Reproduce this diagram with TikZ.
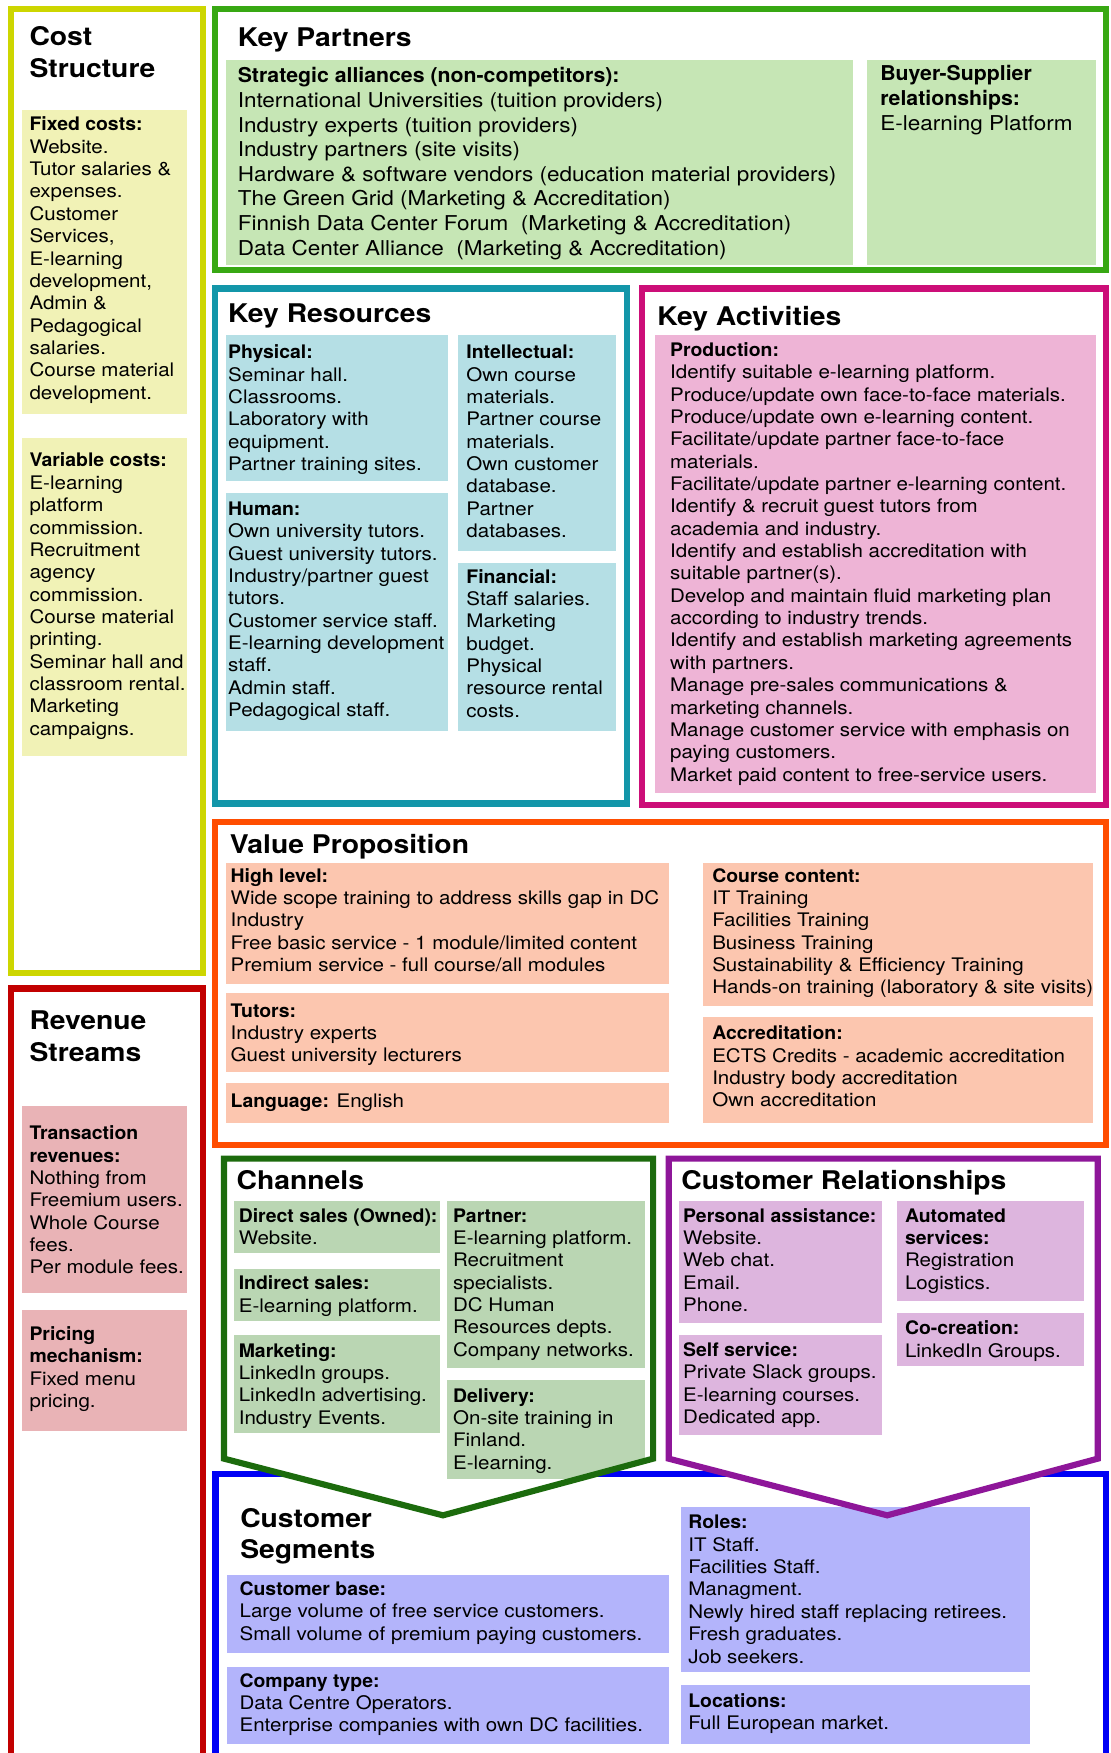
\documentclass[tikz,border=0pt]{standalone}
\usepackage{fontspec}
\setmainfont{TeX Gyre Heros}[FakeStretch=1.1]
\newfontfamily\labelfamily{TeX Gyre Heros}[FakeStretch=1.04]
\usetikzlibrary{positioning}

\definecolor{costline}{HTML}{CDD600}
\definecolor{costfill}{HTML}{F1F2B6}
\definecolor{revline}{HTML}{C20000}
\definecolor{revfill}{HTML}{E9B3B6}
\definecolor{kpline}{HTML}{38A813}
\definecolor{kpfill}{HTML}{C6E6B5}
\definecolor{krline}{HTML}{1396A9}
\definecolor{krfill}{HTML}{B5DFE5}
\definecolor{kaline}{HTML}{CC0E78}
\definecolor{kafill}{HTML}{EEB4D6}
\definecolor{vpline}{HTML}{FF4D00}
\definecolor{vpfill}{HTML}{FCC6AF}
\definecolor{chline}{HTML}{1C6B0D}
\definecolor{chfill}{HTML}{BAD6B3}
\definecolor{crline}{HTML}{8E1699}
\definecolor{crfill}{HTML}{DDB5DE}
\definecolor{csline}{HTML}{0000F5}
\definecolor{csfill}{HTML}{B3B4FB}

\newcommand{\bodyfont}{\fontsize{16.7}{20}\selectfont}
\newcommand{\partnerfont}{\fontsize{18.3}{22}\selectfont}
\newcommand{\headfont}{\fontsize{23}{28.3}\selectfont\bfseries}
\newcommand{\lab}[1]{{\labelfamily\bfseries #1}}

\begin{document}
\begin{tikzpicture}[x=1pt, y=-1pt]

    % Define block styles
    \tikzstyle{frame} = [draw, line width=5.5pt, anchor=north west, inner sep=0pt, outer sep=0pt]
    \tikzstyle{cell} = [anchor=north west, inner sep=0pt, outer sep=0pt]
    \tikzstyle{txt} = [inner sep=0pt, align=left, font=\bodyfont]
    \tikzstyle{head} = [inner sep=0pt, align=left, font=\headfont]

    \useasboundingbox (0,0) rectangle (993,1568);

    % Cost Structure
    \node[frame, draw=costline, minimum width=171.3pt, minimum height=862.2pt] (cost) at (9.9,8.3) {};
    \node[head, below right=12.8pt and 16.3pt of cost.north west] (costtitle) {\strut Cost\\Structure};
    \node[cell, fill=costfill, minimum width=147.9pt, minimum height=272.3pt] (fixed) at (19.8,98.4) {};
    \node[txt, below right=4.5pt and 6.4pt of fixed.north west] (fixedtxt) {\strut\lab{Fixed costs:}\\Website.\\Tutor salaries \&\\expenses.\\Customer\\Services,\\E-learning\\development,\\Admin \&\\Pedagogical\\salaries.\\Course material\\development.};
    \node[cell, fill=costfill, minimum width=147.9pt, minimum height=284.8pt] (variable) at (19.8,391.5) {};
    \node[txt, below right=12pt and 6.4pt of variable.north west] (variabletxt) {\strut\lab{Variable costs:}\\E-learning\\platform\\commission.\\Recruitment\\agency\\commission.\\Course material\\printing.\\Seminar hall and\\classroom rental.\\Marketing\\campaigns.};

    % Revenue Streams
    \node[frame, draw=revline, minimum width=171.3pt, minimum height=720pt] (revenue) at (9.9,884.2) {};
    \node[head, below right=16.9pt and 16.3pt of revenue.north west] (revtitle) {\strut Revenue\\Streams};
    \node[cell, fill=revfill, minimum width=147.9pt, minimum height=167.1pt] (transaction) at (19.8,989.1) {};
    \node[txt, below right=16.2pt and 6.4pt of transaction.north west] (transactiontxt) {\strut\lab{Transaction}\\\lab{revenues:}\\Nothing from\\Freemium users.\\Whole Course\\fees.\\Per module fees.};
    \node[cell, fill=revfill, minimum width=147.9pt, minimum height=108.8pt] (pricing) at (19.8,1171.4) {};
    \node[txt, below right=13.4pt and 6.4pt of pricing.north west] (pricingtxt) {\strut\lab{Pricing}\\\lab{mechanism:}\\Fixed menu\\pricing.};

    % Key Partners
    \node[frame, draw=kpline, minimum width=797.5pt, minimum height=233.2pt] (partners) at (192,8.3) {};
    \node[head, below right=13.7pt and 20.5pt of partners.north west] (kptitle) {\strut Key Partners};
    \node[cell, fill=kpfill, minimum width=561.2pt, minimum height=183.4pt] (strategic) at (202.2,53.7) {};
    \node[txt, font=\partnerfont, below right=4.9pt and 10.3pt of strategic.north west] (strategictxt) {\strut\lab{Strategic alliances (non-competitors):}\\International Universities (tuition providers)\\Industry experts (tuition providers)\\Industry partners (site visits)\\Hardware \& software vendors (education material providers)\\The Green Grid (Marketing \& Accreditation)\\Finnish Data Center Forum\ \ (Marketing \& Accreditation)\\Data Center Alliance\ \ (Marketing \& Accreditation)};
    \node[cell, fill=kpfill, minimum width=205.6pt, minimum height=183.4pt] (buyer) at (775.1,53.7) {};
    \node[txt, font=\partnerfont, below right=3.1pt and 12.1pt of buyer.north west] (buyertxt) {\strut\lab{Buyer-Supplier}\\\lab{relationships:}\\E-learning Platform};

    % Key Resources
    \node[frame, draw=krline, minimum width=369.1pt, minimum height=460.7pt] (resources) at (192,258) {};
    \node[head, below right=10.9pt and 11.9pt of resources.north west] (krtitle) {\strut Key Resources};
    \node[cell, fill=krfill, minimum width=199.1pt, minimum height=130.6pt] (physical) at (201.9,299.7) {};
    \node[txt, below right=6.9pt and 2pt of physical.north west] (physicaltxt) {\strut\lab{Physical:}\\Seminar hall.\\Classrooms.\\Laboratory with\\equipment.\\Partner training sites.};
    \node[cell, fill=krfill, minimum width=199.1pt, minimum height=212.4pt] (human) at (201.9,441.3) {};
    \node[txt, below right=5.4pt and 2pt of human.north west] (humantxt) {\strut\lab{Human:}\\Own university tutors.\\Guest university tutors.\\Industry/partner guest\\tutors.\\Customer service staff.\\E-learning development\\staff.\\Admin staff.\\Pedagogical staff.};
    \node[cell, fill=krfill, minimum width=141.8pt, minimum height=193.2pt] (intellectual) at (409.6,299.7) {};
    \node[txt, below right=6.9pt and 7.4pt of intellectual.north west] (intellectualtxt) {\strut\lab{Intellectual:}\\Own course\\materials.\\Partner course\\materials.\\Own customer\\database.\\Partner\\databases.};
    \node[cell, fill=krfill, minimum width=141.8pt, minimum height=150.3pt] (financial) at (409.6,503.4) {};
    \node[txt, below right=3.9pt and 7.4pt of financial.north west] (financialtxt) {\strut\lab{Financial:}\\Staff salaries.\\Marketing\\budget.\\Physical\\resource rental\\costs.};

    % Key Activities
    \node[frame, draw=kaline, minimum width=415.3pt, minimum height=462pt] (activities) at (574.2,258) {};
    \node[head, below right=13pt and 13.6pt of activities.north west] (katitle) {\strut Key Activities};
    \node[cell, fill=kafill, minimum width=395.2pt, minimum height=409.4pt] (production) at (585.5,299.7) {};
    \node[txt, below right=4.8pt and 13.7pt of production.north west] (productiontxt) {\strut\lab{Production:}\\Identify suitable e-learning platform.\\Produce/update own face-to-face materials.\\Produce/update own e-learning content.\\Facilitate/update partner face-to-face\\materials.\\Facilitate/update partner e-learning content.\\Identify \& recruit guest tutors from\\academia and industry.\\Identify and establish accreditation with\\suitable partner(s).\\Develop and maintain fluid marketing plan\\according to industry trends.\\Identify and establish marketing agreements\\with partners.\\Manage pre-sales communications \&\\marketing channels.\\Manage customer service with emphasis on\\paying customers.\\Market paid content to free-service users.};

    % Value Proposition
    \node[frame, draw=vpline, minimum width=797.5pt, minimum height=288.5pt] (value) at (192,735.5) {};
    \node[head, below right=8.1pt and 13.4pt of value.north west] (vptitle) {\strut Value Proposition};
    \node[cell, fill=vpfill, minimum width=396.3pt, minimum height=108.2pt] (highlevel) at (202.2,771.5) {};
    \node[txt, below right=3.3pt and 3.9pt of highlevel.north west] (highleveltxt) {\strut\lab{High level:}\\Wide scope training to address skills gap in DC\\Industry\\Free basic service - 1 module/limited content\\Premium service - full course/all modules};
    \node[cell, fill=vpfill, minimum width=396.3pt, minimum height=70.9pt] (tutors) at (202.2,887.8) {};
    \node[txt, below right=7.7pt and 3.9pt of tutors.north west] (tutorstxt) {\strut\lab{Tutors:}\\Industry experts\\Guest university lecturers};
    \node[cell, fill=vpfill, minimum width=396.3pt, minimum height=35.5pt] (language) at (202.2,968.6) {};
    \node[txt, below right=7.4pt and 3.9pt of language.north west] (languagetxt) {\strut\lab{Language:} English};
    \node[cell, fill=vpfill, minimum width=348.6pt, minimum height=128.5pt] (course) at (629.1,771.5) {};
    \node[txt, below right=3.3pt and 7.8pt of course.north west] (coursetxt) {\strut\lab{Course content:}\\IT Training\\Facilities Training\\Business Training\\Sustainability \& Efficiency Training\\Hands-on training (laboratory \& site visits)};
    \node[cell, fill=vpfill, minimum width=348.6pt, minimum height=94pt] (accred) at (629.1,910.1) {};
    \node[txt, below right=5.7pt and 7.8pt of accred.north west] (accredtxt) {\strut\lab{Accreditation:}\\ECTS Credits - academic accreditation\\Industry body accreditation\\Own accreditation};

    % Customer Segments
    \node[frame, draw=csline, minimum width=796.7pt, minimum height=300pt] (segments) at (192.8,1318.4) {};
    \node[head, below right=27.6pt and 21.9pt of segments.north west] (cstitle) {\strut Customer\\Segments};

    % Channels and Customer Relationships arrows
    \coordinate (ch1) at (200.4,1036.3);
    \coordinate (ch2) at (584.2,1036.3);
    \coordinate (ch3) at (584.2,1304.7);
    \coordinate (ch4) at (396.2,1355.4);
    \coordinate (ch5) at (200.4,1304.7);
    \coordinate (cr1) at (598.1,1036.3);
    \coordinate (cr2) at (981.9,1036.3);
    \coordinate (cr3) at (981.9,1304.7);
    \coordinate (cr4) at (793.6,1355.4);
    \coordinate (cr5) at (598.1,1304.7);
    \fill[white] (ch1) -- (ch2) -- (ch3) -- (ch4) -- (ch5) -- cycle;
    \fill[white] (cr1) -- (cr2) -- (cr3) -- (cr4) -- (cr5) -- cycle;

    \node[cell, fill=csfill, minimum width=395.8pt, minimum height=69.5pt] (custbase) at (202.7,1409) {};
    \node[txt, below right=3.9pt and 11.4pt of custbase.north west] (custbasetxt) {\strut\lab{Customer base:}\\Large volume of free service customers.\\Small volume of premium paying customers.};
    \node[cell, fill=csfill, minimum width=395.8pt, minimum height=68.6pt] (company) at (202.7,1491) {};
    \node[txt, below right=3.9pt and 11.4pt of company.north west] (companytxt) {\strut\lab{Company type:}\\Data Centre Operators.\\Enterprise companies with own DC facilities.};
    \node[cell, fill=csfill, minimum width=312.2pt, minimum height=147.6pt] (roles) at (609.3,1347.9) {};
    \node[txt, below right=5.4pt and 6.2pt of roles.north west] (rolestxt) {\strut\lab{Roles:}\\IT Staff.\\Facilities Staff.\\Managment.\\Newly hired staff replacing retirees.\\Fresh graduates.\\Job seekers.};
    \node[cell, fill=csfill, minimum width=312.2pt, minimum height=52.2pt] (locations) at (609.3,1507.4) {};
    \node[txt, below right=5.4pt and 6.2pt of locations.north west] (locationstxt) {\strut\lab{Locations:}\\Full European market.};

    % Channels
    \node[head, below right=7.9pt and 11.1pt of ch1] (chtitle) {\strut Channels};
    \node[cell, fill=chfill, minimum width=184pt, minimum height=46.3pt] (direct) at (209.6,1074.4) {};
    \node[txt, below right=4.6pt and 3.8pt of direct.north west] (directtxt) {\strut\lab{Direct sales (Owned):}\\Website.};
    \node[cell, fill=chfill, minimum width=184pt, minimum height=46.8pt] (indirect) at (209.6,1134.7) {};
    \node[txt, below right=4.7pt and 3.8pt of indirect.north west] (indirecttxt) {\strut\lab{Indirect sales:}\\E-learning platform.};
    \node[cell, fill=chfill, minimum width=184pt, minimum height=87.4pt] (marketing) at (209.6,1194.3) {};
    \node[txt, below right=5.4pt and 3.8pt of marketing.north west] (marketingtxt) {\strut\lab{Marketing:}\\LinkedIn groups.\\LinkedIn advertising.\\Industry Events.};
    \node[cell, fill=chfill, minimum width=176.8pt, minimum height=148.8pt] (partner) at (400,1074.4) {};
    \node[txt, below right=4.6pt and 5.1pt of partner.north west] (partnertxt) {\strut\lab{Partner:}\\E-learning platform.\\Recruitment\\specialists.\\DC Human\\Resources depts.\\Company networks.};
    \begin{scope}
        \clip (ch1) -- (ch2) -- (ch3) -- (ch4) -- (ch5) -- cycle;
        \node[cell, fill=chfill, minimum width=176.8pt, minimum height=87.9pt] (delivery) at (400,1234.6) {};
    \end{scope}
    \node[txt, below right=5.4pt and 5.1pt of delivery.north west] (deliverytxt) {\strut\lab{Delivery:}\\On-site training in\\Finland.\\E-learning.};
    \draw[chline, line width=5.5pt] (ch1) -- (ch2) -- (ch3) -- (ch4) -- (ch5) -- cycle;

    % Customer Relationships
    \node[head, below right=7.9pt and 11.2pt of cr1] (crtitle) {\strut Customer Relationships};
    \node[cell, fill=crfill, minimum width=181.8pt, minimum height=108.9pt] (personal) at (607,1074.1) {};
    \node[txt, below right=4.9pt and 3.9pt of personal.north west] (personaltxt) {\strut\lab{Personal assistance:}\\Website.\\Web chat.\\Email.\\Phone.};
    \node[cell, fill=crfill, minimum width=181.8pt, minimum height=90.1pt] (selfserv) at (607,1193.7) {};
    \node[txt, below right=5.4pt and 3.9pt of selfserv.north west] (selfservtxt) {\strut\lab{Self service:}\\Private Slack groups.\\E-learning courses.\\Dedicated app.};
    \node[cell, fill=crfill, minimum width=167.5pt, minimum height=89.8pt] (automated) at (802.5,1074.1) {};
    \node[txt, below right=4.9pt and 6.8pt of automated.north west] (automatedtxt) {\strut\lab{Automated}\\\lab{services:}\\Registration\\Logistics.};
    \node[cell, fill=crfill, minimum width=167.5pt, minimum height=47.4pt] (cocreation) at (802.5,1174) {};
    \node[txt, below right=5.7pt and 6.8pt of cocreation.north west] (cocreationtxt) {\strut\lab{Co-creation:}\\LinkedIn Groups.};
    \draw[crline, line width=5.5pt] (cr1) -- (cr2) -- (cr3) -- (cr4) -- (cr5) -- cycle;

\end{tikzpicture}
\end{document}
